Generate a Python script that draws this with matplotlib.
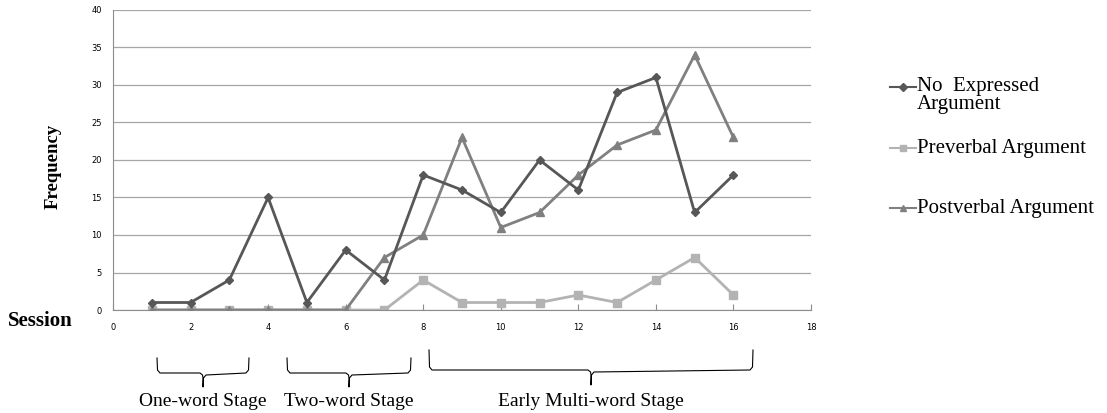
import matplotlib.pyplot as plt
from matplotlib.lines import Line2D

sessions = list(range(1, 17))
no_expressed = [1, 1, 4, 15, 1, 8, 4, 18, 16, 13, 20, 16, 29, 31, 13, 18]
preverbal = [0, 0, 0, 0, 0, 0, 0, 4, 1, 1, 1, 2, 1, 4, 7, 2]
postverbal = [0, 0, 0, 0, 0, 0, 7, 10, 23, 11, 13, 18, 22, 24, 34, 23]
series_names = ['No  Expressed\nArgument', 'Preverbal Argument', 'Postverbal Argument']
stages = ['One-word Stage', 'Two-word Stage', 'Early Multi-word Stage']

W, H = 1107, 413
fig = plt.figure(figsize=(W / 100, H / 100), dpi=100)
ax = fig.add_axes([113 / W, 1 - 310 / H, (811 - 113) / W, 300 / H])

c_no, c_pre, c_post = '#575757', '#b3b3b3', '#808080'
ax.plot(sessions, postverbal, color=c_post, marker='^', ms=6, lw=2, zorder=3)
ax.plot(sessions, preverbal, color=c_pre, marker='s', ms=6, lw=2, zorder=2)
ax.plot(sessions, no_expressed, color=c_no, marker='D', ms=4.5, lw=2, zorder=4)

ax.set_xlim(0, 18)
ax.set_ylim(0, 40)
ax.set_xticks(range(0, 19, 2))
ax.set_yticks(range(0, 41, 5))
ax.grid(axis='y', color='#a6a6a6', lw=0.9)
ax.set_axisbelow(True)
for s in ['top', 'right']:
    ax.spines[s].set_visible(False)
for s in ['left', 'bottom']:
    ax.spines[s].set_color('#8c8c8c')
ax.tick_params(axis='both', labelsize=6, colors='#8c8c8c', labelcolor='black')
ax.tick_params(axis='y', length=0, pad=8)
ax.tick_params(axis='x', direction='in', length=4, pad=9)

serif = 'Liberation Serif'
fig.text(53 / W, 1 - 166 / H, 'Frequency', rotation=90, ha='center', va='center',
         family=serif, weight='bold', fontsize=13.5)
fig.text(40 / W, 1 - 321 / H, 'Session', ha='center', va='center',
         family=serif, weight='bold', fontsize=15)

# legend, drawn by hand to follow the original placement
markers = [('D', 4, c_no), ('s', 5, c_pre), ('^', 5, c_post)]
leg_y = [87, 148, 208]
for (m, ms, c), name, y in zip(markers, series_names, leg_y):
    ly = 1 - y / H
    fig.add_artist(Line2D([890 / W, 916 / W], [ly, ly], color=c, lw=1.5))
    fig.add_artist(Line2D([903 / W], [ly], color=c, marker=m, ms=ms))
    if '\n' in name:
        fig.text(917 / W, ly + 10 / H, name, ha='left', va='top', family=serif,
                 fontsize=15, linespacing=0.9)
    else:
        fig.text(917 / W, ly, name, ha='left', va='center', family=serif, fontsize=15)

# stage braces (pixel positions)
braces = [(157, 249, 358, 373, 387), (287, 411, 358, 373, 387), (429, 753, 350, 370, 385)]
for (x0, x1, yt, yb, ytip), label in zip(braces, stages):
    xm = (x0 + x1) / 2
    pts_x = [x0, x0 + 0.5, x0 + 3, xm - 3, xm - 0.5, xm, xm, xm + 0.5, xm + 3, x1 - 3, x1 - 0.5, x1]
    pts_y = [yt, yb - 3, yb, yb, yb + 2, yb + 5, ytip, yb + 5, yb + 2, yb, yb - 3, yt]
    # outer vertical parts of the brace
    fig.add_artist(Line2D([p / W for p in pts_x[:6]] + [xm / W] + [p / W for p in pts_x[7:]],
                          [1 - p / H for p in pts_y[:6]] + [1 - ytip / H] + [1 - p / H for p in pts_y[7:]],
                          color='black', lw=0.8))
    fig.text(xm / W, 1 - 402 / H, label, ha='center', va='center', family=serif, fontsize=14)

fig.savefig('out.png', dpi=100)
